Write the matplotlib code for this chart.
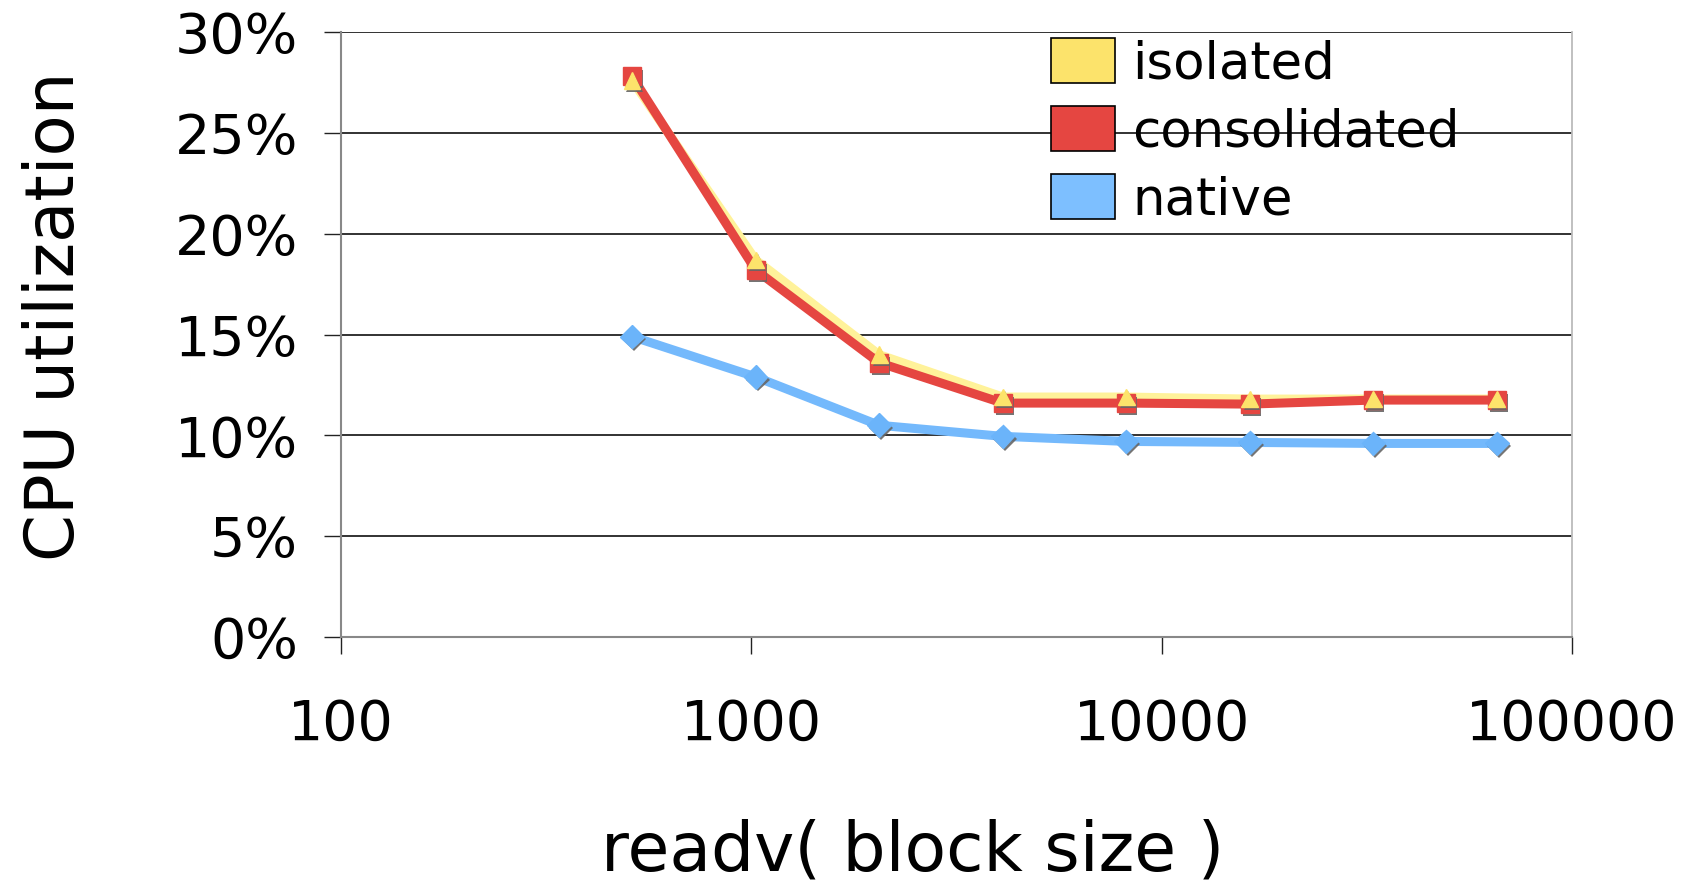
#!/usr/bin/env python3
"""CPU utilization vs readv block size (isolated / consolidated / native)."""
import matplotlib
matplotlib.use('Agg')
import matplotlib.pyplot as plt
import matplotlib.patheffects as pe
from matplotlib.patches import Patch
from matplotlib.ticker import FixedLocator, NullLocator, FuncFormatter

block_size = [512, 1024, 2048, 4096, 8192, 16384, 32768, 65536]
isolated = [27.6, 18.7, 14.0, 11.9, 11.9, 11.8, 11.8, 11.8]
consolidated = [27.8, 18.2, 13.6, 11.6, 11.6, 11.55, 11.75, 11.75]
native = [14.9, 12.9, 10.5, 9.95, 9.7, 9.65, 9.6, 9.6]

series_names = ['isolated', 'consolidated', 'native']
legend_colors = ['#FCE36B', '#E54641', '#7DBFFF']

x_ticks = [100, 1000, 10000, 100000]
y_ticks = [0, 5, 10, 15, 20, 25, 30]


def main():
    plt.rcParams['font.family'] = ['DejaVu Sans']
    fig = plt.figure(figsize=(16.91, 8.85), dpi=100)
    ax = fig.add_axes([0.2017, 0.2802, 0.728, 0.6836])

    shadow = [pe.SimplePatchShadow(offset=(1.5, -2), shadow_rgbFace='#666666', alpha=0.9),
              pe.Normal()]

    # lines first, markers after so they sit on top
    ax.plot(block_size, native, color='#74B9FC', lw=6.5, solid_joinstyle='round', zorder=3)
    ax.plot(block_size, isolated, color='#FFF29A', lw=6.5, solid_joinstyle='round', zorder=4)
    ax.plot(block_size, consolidated, color='#E54641', lw=6.5, solid_joinstyle='round', zorder=5)

    ax.plot(block_size, native, ls='none', marker='D', ms=12, color='#6BB4FA',
            mec='#6BB4FA', path_effects=shadow, zorder=6)
    ax.plot(block_size, consolidated, ls='none', marker='s', ms=13, color='#E54641',
            mec='#E54641', path_effects=shadow, zorder=6)
    ax.plot(block_size, isolated, ls='none', marker='^', ms=12, color='#FDE36B',
            mec='#FDE36B', path_effects=shadow, zorder=7)

    ax.set_xscale('log')
    ax.set_xlim(100, 100000)
    ax.set_ylim(0, 30)
    ax.xaxis.set_major_locator(FixedLocator(x_ticks))
    ax.xaxis.set_minor_locator(NullLocator())
    ax.xaxis.set_major_formatter(FuncFormatter(lambda v, p: f'{int(v)}'))
    ax.yaxis.set_major_locator(FixedLocator(y_ticks))
    ax.yaxis.set_major_formatter(FuncFormatter(lambda v, p: f'{int(v)}%'))

    ax.yaxis.grid(True, color='#222222', lw=1.3)
    ax.set_axisbelow(True)
    ax.spines['top'].set_visible(False)
    ax.spines['left'].set_color('#888888')
    ax.spines['left'].set_linewidth(1.5)
    ax.spines['bottom'].set_color('#888888')
    ax.spines['bottom'].set_linewidth(1.5)
    ax.spines['right'].set_color('#BBBBBB')
    ax.spines['right'].set_linewidth(1.3)

    ax.tick_params(axis='y', length=12, width=1.0, color='#222222', pad=19, labelsize=40)
    ax.tick_params(axis='x', length=12, width=1.0, color='#222222', pad=32, labelsize=40)

    ax.set_ylabel('CPU utilization', fontsize=48.5, labelpad=62, y=0.531)
    ax.set_xlabel('readv( block size )', fontsize=49, labelpad=48, x=0.4645)

    handles = [Patch(facecolor=c, edgecolor='black', lw=1.2) for c in legend_colors]
    ax.legend(handles, series_names, loc='upper left', bbox_to_anchor=(0.577, 0.99),
              frameon=False, fontsize=37, handlelength=1.23, handleheight=0.97,
              handletextpad=0.35, labelspacing=0.33, borderpad=0, borderaxespad=0)

    fig.savefig('out.png', dpi=100)


if __name__ == '__main__':
    main()
